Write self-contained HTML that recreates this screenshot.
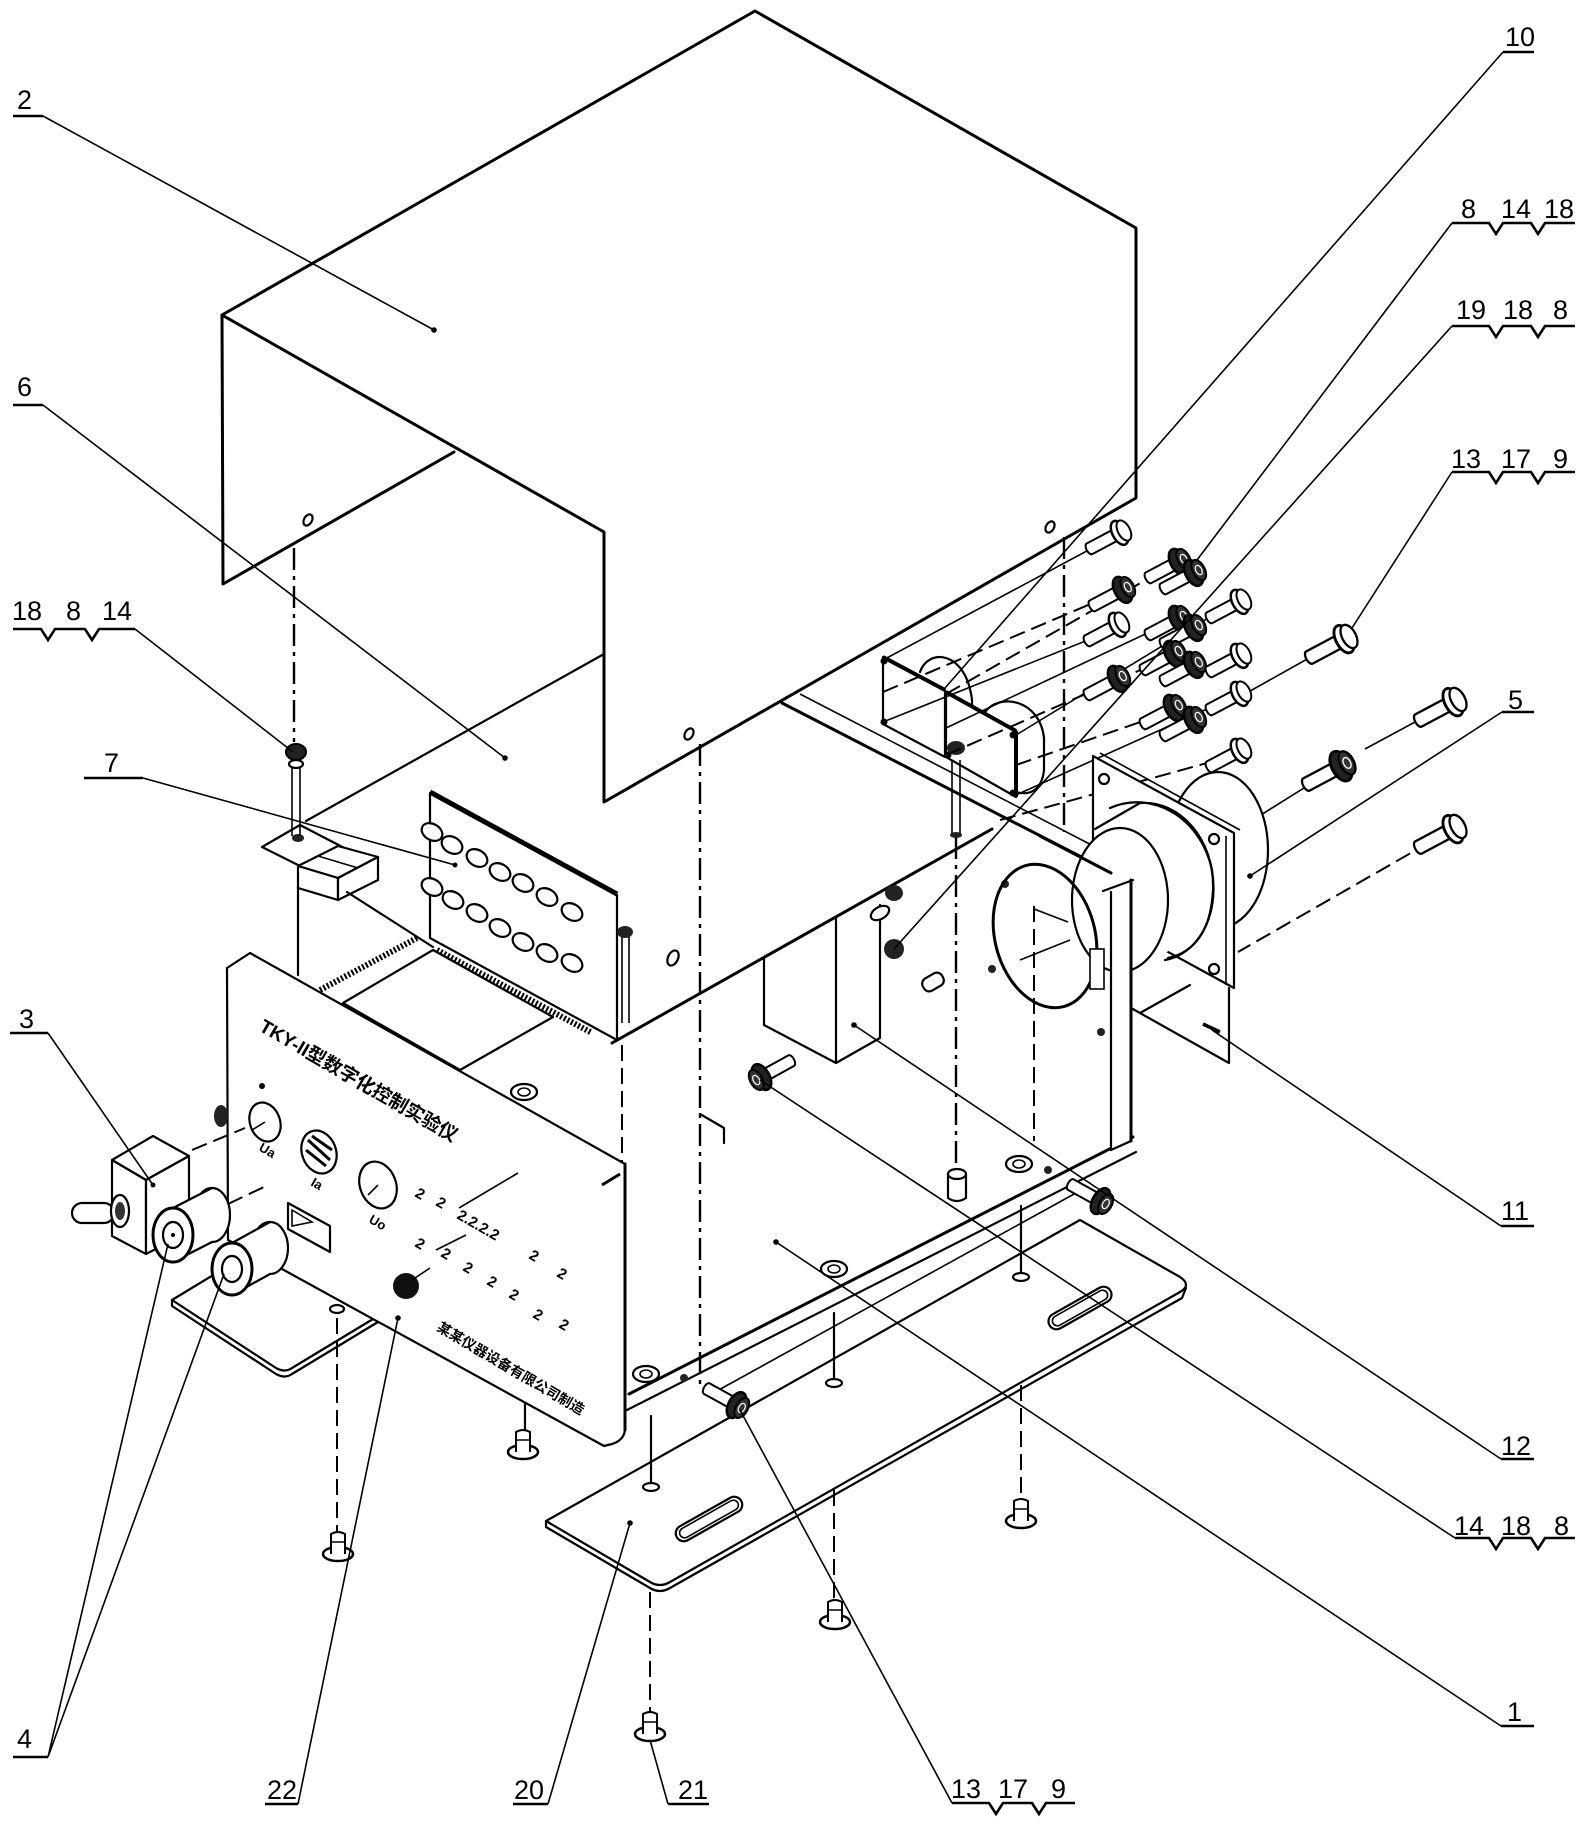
<!DOCTYPE html>
<html><head><meta charset="utf-8"><style>
html,body{margin:0;padding:0;background:#fff;}
svg{display:block;}
.k{stroke:#000;stroke-width:3;stroke-linecap:round;stroke-linejoin:round}
.m{stroke:#000;stroke-width:2.2;stroke-linecap:round;stroke-linejoin:round}
.t{stroke:#000;stroke-width:1.6}
.dd{stroke:#000;stroke-width:2.4;stroke-dasharray:22 6 4 6}
.ds{stroke:#000;stroke-width:2;stroke-dasharray:16 7}
.lb{font-family:"Liberation Sans",sans-serif;font-size:27px;fill:#000}
.pt{font-family:"Liberation Sans","Noto Sans CJK SC",sans-serif;font-weight:bold;fill:#000}
</style></head><body>
<svg width="1589" height="1830" viewBox="0 0 1589 1830" xmlns="http://www.w3.org/2000/svg" fill="none">
<defs>
<g id="bolt">
<path d="M-38,-6 L-8,-6 L-8,6 L-38,6 A3,6 0 0 1 -38,-6 Z" fill="#fff" stroke="#000" stroke-width="2"/>
<ellipse cx="-4" cy="0" rx="7" ry="13" fill="#fff" stroke="#000" stroke-width="2.5"/>
<ellipse cx="1" cy="0" rx="6" ry="11" fill="#fff" stroke="#000" stroke-width="2"/>
</g>
<g id="boltd">
<path d="M-38,-6 L-8,-6 L-8,6 L-38,6 A3,6 0 0 1 -38,-6 Z" fill="#fff" stroke="#000" stroke-width="2"/>
<ellipse cx="-4" cy="0" rx="8" ry="14" fill="#222" stroke="#000" stroke-width="2.5"/>
<ellipse cx="2" cy="0" rx="6" ry="11" fill="#333" stroke="#000" stroke-width="2"/>
<ellipse cx="2" cy="0" rx="3" ry="5" fill="none" stroke="#fff" stroke-width="1.2"/>
</g>
<g id="scr">
<ellipse cx="0" cy="0" rx="15" ry="7" fill="#fff" stroke="#000" stroke-width="2.5"/>
<path d="M-7,0 L-7,-20 Q0,-24 7,-20 L7,0" fill="#fff" stroke="#000" stroke-width="2"/>
<line x1="-7" y1="-12" x2="7" y2="-12" stroke="#000" stroke-width="1.5"/>
</g>
</defs>

<!-- ===== COVER (2) ===== -->
<path class="k" d="M222,315 L755,11 L1136,228 L1136,498 L604,802 L604,532 L222,315 L223,584 L454,452"/>
<ellipse cx="308" cy="520" rx="4" ry="6" class="m" transform="rotate(30 308 520)"/>
<ellipse cx="689" cy="734" rx="4" ry="6" class="m" transform="rotate(30 689 734)"/>
<ellipse cx="1050" cy="527" rx="4" ry="6" class="m" transform="rotate(30 1050 527)"/>

<!-- body top back edge -->
<line class="m" x1="604" y1="654" x2="306" y2="821"/>

<!-- vertical dash / solid lines -->
<line class="dd" x1="294" y1="548" x2="294" y2="742"/>
<line class="dd" x1="700" y1="744" x2="700" y2="1385"/>
<line class="dd" x1="1064" y1="537" x2="1064" y2="832"/>
<line class="dd" x1="956" y1="837" x2="956" y2="1175"/>
<line class="ds" x1="1034" y1="906" x2="1034" y2="1141"/>
<line class="ds" x1="622" y1="1045" x2="622" y2="1165"/>
<line class="ds" x1="650" y1="1592" x2="650" y2="1712"/>
<line class="ds" x1="834" y1="1490" x2="834" y2="1600"/>
<line class="ds" x1="1021" y1="1385" x2="1021" y2="1500"/>
<line class="m" x1="298" y1="887" x2="298" y2="975"/>
<line class="m" x1="525" y1="1401" x2="525" y2="1432"/>
<path class="m" d="M700,1114 L724,1128 L724,1143"/>

<!-- ===== PCB assembly (7) ===== -->
<path class="m" fill="#fff" d="M262,847 L300,825 L352,852 L314,873 Z"/>
<ellipse cx="298" cy="838" rx="6" ry="4" fill="#222"/>
<line class="t" x1="292" y1="758" x2="292" y2="836"/>
<line class="t" x1="300" y1="758" x2="300" y2="836"/>
<ellipse cx="296" cy="764" rx="7" ry="4" class="m" fill="#fff"/>
<ellipse cx="296" cy="752" rx="10" ry="8" fill="#222" stroke="#000" stroke-width="2"/>
<path class="m" fill="#fff" d="M298,866 L338,846 L378,857 L338,878 Z"/>
<path class="m" fill="#fff" d="M298,866 L338,878 L338,900 L298,888 Z"/>
<path class="m" fill="#fff" d="M338,878 L378,857 L378,880 L338,900 Z"/>
<line class="t" x1="318" y1="856" x2="358" y2="868"/>

<line x1="320" y1="990" x2="417" y2="938" stroke="#000" stroke-width="6" stroke-dasharray="2 2"/>
<path class="m" d="M343,1003 L433,950 L553,1017 L460,1070 Z"/>
<line class="m" x1="347" y1="892" x2="433" y2="947"/>

<path class="m" fill="#fff" d="M430,793 L617,895 L617,1040 L430,938 Z"/>
<line x1="430" y1="792" x2="617" y2="894" stroke="#000" stroke-width="5"/>
<line x1="437" y1="950" x2="592" y2="1033" stroke="#000" stroke-width="6" stroke-dasharray="2 2"/>
<g class="m" stroke-width="2.4" fill="#fff">
<ellipse cx="432" cy="832" rx="11" ry="8" transform="rotate(30 432 832)"/>
<ellipse cx="452" cy="845" rx="11" ry="8" transform="rotate(30 452 845)"/>
<ellipse cx="477" cy="858" rx="11" ry="8" transform="rotate(30 477 858)"/>
<ellipse cx="500" cy="872" rx="11" ry="8" transform="rotate(30 500 872)"/>
<ellipse cx="523" cy="883" rx="11" ry="8" transform="rotate(30 523 883)"/>
<ellipse cx="547" cy="897" rx="11" ry="8" transform="rotate(30 547 897)"/>
<ellipse cx="572" cy="912" rx="11" ry="8" transform="rotate(30 572 912)"/>
<ellipse cx="432" cy="887" rx="11" ry="8" transform="rotate(30 432 887)"/>
<ellipse cx="453" cy="900" rx="11" ry="8" transform="rotate(30 453 900)"/>
<ellipse cx="477" cy="913" rx="11" ry="8" transform="rotate(30 477 913)"/>
<ellipse cx="500" cy="928" rx="11" ry="8" transform="rotate(30 500 928)"/>
<ellipse cx="523" cy="942" rx="11" ry="8" transform="rotate(30 523 942)"/>
<ellipse cx="547" cy="953" rx="11" ry="8" transform="rotate(30 547 953)"/>
<ellipse cx="572" cy="963" rx="11" ry="8" transform="rotate(30 572 963)"/>
</g>
<line class="t" x1="622" y1="934" x2="622" y2="1023"/>
<line class="t" x1="629" y1="934" x2="629" y2="1023"/>
<ellipse cx="625" cy="932" rx="8" ry="6" fill="#222"/>
<ellipse cx="673" cy="958" rx="5" ry="8" class="m" transform="rotate(25 673 958)"/>

<!-- ===== CHASSIS (1) ===== -->
<line class="k" x1="612" y1="1043" x2="992" y2="829"/>
<line class="k" x1="782" y1="703" x2="1130" y2="882"/>
<line class="t" x1="800" y1="694" x2="1134" y2="867"/>
<line class="k" x1="629" y1="1394" x2="1133" y2="1137"/>
<line class="m" x1="627" y1="1410" x2="1136" y2="1152"/>
<line class="t" x1="715" y1="1392" x2="1085" y2="1188"/>
<!-- transformer box -->
<path class="m" d="M764,957 L764,1025 L836,1063 L836,917 M836,1063 L880,1038 L880,905"/>
<!-- small parts on chassis -->
<ellipse cx="894" cy="893" rx="9" ry="8" fill="#222"/>
<ellipse cx="880" cy="913" rx="10" ry="6" class="m" fill="#fff" transform="rotate(-30 880 913)"/>
<ellipse cx="894" cy="949" rx="10" ry="10" fill="#222"/>
<rect x="922" y="975" width="22" height="14" rx="6" class="m" fill="#fff" transform="rotate(-30 933 982)"/>
<circle cx="992" cy="969" r="4" fill="#222"/>
<circle cx="1005" cy="884" r="4" fill="#222"/>
<circle cx="1101" cy="904" r="4" fill="#222"/>
<circle cx="1101" cy="1032" r="4" fill="#222"/>
<ellipse cx="524" cy="1092" rx="13" ry="8" class="m" fill="#fff"/><ellipse cx="524" cy="1092" rx="6" ry="4" class="t"/>
<ellipse cx="646" cy="1374" rx="13" ry="8" class="m" fill="#fff"/><ellipse cx="646" cy="1374" rx="6" ry="4" class="t"/>
<ellipse cx="834" cy="1269" rx="13" ry="8" class="m" fill="#fff"/><ellipse cx="834" cy="1269" rx="6" ry="4" class="t"/>
<ellipse cx="1019" cy="1164" rx="13" ry="8" class="m" fill="#fff"/><ellipse cx="1019" cy="1164" rx="6" ry="4" class="t"/>
<path class="m" fill="#fff" d="M948,1174 L948,1198 Q957,1204 966,1198 L966,1174"/>
<ellipse cx="957" cy="1174" rx="9" ry="5" class="m" fill="#fff"/>
<circle cx="684" cy="1378" r="4" fill="#222"/>
<circle cx="1048" cy="1170" r="4" fill="#222"/>

<!-- ===== PLATES (10) ===== -->
<path class="m" d="M920,672 C928,648 966,650 972,700 L972,720"/>
<path class="m" fill="#fff" d="M883,657 L945,690 L945,757 L883,724 Z"/>
<path class="m" d="M985,712 C1000,692 1040,700 1044,738 L1044,770 C1042,790 1030,796 1016,792"/>
<path class="m" fill="#fff" d="M946,692 L1016,731 L1016,797 L946,757 Z"/>
<line x1="883" y1="657" x2="945" y2="690" stroke="#000" stroke-width="4"/>
<line x1="946" y1="692" x2="1016" y2="731" stroke="#000" stroke-width="4"/>
<line x1="1016" y1="731" x2="1016" y2="797" stroke="#000" stroke-width="4"/>
<circle cx="884" cy="661" r="3.5" fill="#000"/><circle cx="884" cy="722" r="3.5" fill="#000"/>
<circle cx="948" cy="755" r="3.5" fill="#000"/><circle cx="1013" cy="735" r="3.5" fill="#000"/><circle cx="1013" cy="793" r="3.5" fill="#000"/>
<line class="t" x1="952" y1="760" x2="952" y2="837"/><line class="t" x1="960" y1="760" x2="960" y2="837"/>
<ellipse cx="956" cy="748" rx="9" ry="7" fill="#222"/>
<ellipse cx="956" cy="835" rx="6" ry="3" fill="#222"/>
<!-- axis lines plates -> bolts -->
<line class="t" x1="883" y1="660" x2="1098" y2="545"/>
<line class="ds" x1="883" y1="692" x2="1100" y2="600"/>
<line class="t" x1="883" y1="722" x2="1098" y2="636"/>
<line class="ds" x1="946" y1="694" x2="1158" y2="573"/>
<line class="t" x1="946" y1="728" x2="1158" y2="628"/>
<line class="ds" x1="946" y1="755" x2="1154" y2="664"/>
<line class="t" x1="1016" y1="735" x2="1218" y2="612"/>
<line class="ds" x1="1016" y1="765" x2="1152" y2="718"/>
<line class="t" x1="1016" y1="795" x2="1218" y2="704"/>
<line class="ds" x1="1000" y1="820" x2="1218" y2="760"/>
<line class="t" x1="1320" y1="778" x2="1256" y2="818"/>
<line class="t" x1="1428" y1="715" x2="1365" y2="749"/>
<line class="ds" x1="1430" y1="842" x2="1238" y2="952"/>
<line class="t" x1="1318" y1="653" x2="1243" y2="695"/>

<!-- ===== FAN (5) ===== -->
<ellipse cx="1218" cy="850" rx="50" ry="78" fill="#fff" class="m"/>
<path class="m" fill="#fff" d="M1093,756 L1234,833 L1234,988 L1093,911 Z"/>
<line class="t" x1="1226" y1="836" x2="1226" y2="985"/>
<line class="t" x1="1100" y1="753" x2="1240" y2="830"/>
<circle cx="1104" cy="779" r="5" class="m"/><circle cx="1214" cy="839" r="5" class="m"/>
<circle cx="1214" cy="969" r="5" class="m"/>
<path fill="#fff" stroke="none" d="M1120,832 L1160,804 L1172,880 L1160,958 L1120,978 Z"/>
<path class="m" d="M1110,808 C1150,790 1200,815 1212,870 C1220,920 1195,955 1165,960"/>
<path fill="#fff" stroke="none" d="M1095,830 L1140,803 L1165,850 L1170,950 L1135,972 Z"/>
<line class="m" x1="1095" y1="829" x2="1140" y2="803"/>
<path class="m" d="M1140,803 C1180,800 1215,840 1213,890 C1211,930 1195,952 1168,958"/>
<ellipse cx="1120" cy="900" rx="48" ry="72" fill="#fff" class="m"/>
<line class="k" x1="1040" y1="836" x2="1111" y2="873"/>
<!-- wall hole -->
<ellipse cx="1045" cy="936" rx="50" ry="73" transform="rotate(-15 1045 936)" class="k"/>
<path class="t" d="M1034,909 L1068,922 M1020,960 L1070,940"/>
<rect x="1090" y="949" width="14" height="40" class="t" fill="#fff"/>
<!-- flange -->
<path fill="#fff" stroke="none" d="M1111,892 L1131,882 L1131,1141 L1111,1150 Z"/>
<line class="m" x1="1111" y1="892" x2="1111" y2="1150"/>
<line class="k" x1="1131" y1="880" x2="1131" y2="1141"/>
<line class="m" x1="1103" y1="891" x2="1133" y2="880"/>
<line class="m" x1="1111" y1="1150" x2="1131" y2="1141"/>
<!-- bracket 11 -->
<path class="m" d="M1131,1008 L1229,1063 L1229,988 M1140,1013 L1190,985"/>
<line x1="1203" y1="1024" x2="1220" y2="1032" stroke="#000" stroke-width="3.5"/>

<!-- ===== BASE PLATE (20) ===== -->
<path class="m" fill="#fff" d="M546,1521 L1080,1220 L1180,1277 Q1192,1285 1180,1292 L670,1582 Q660,1588 650,1582 Z"/>
<path class="m" d="M546,1521 L546,1527 L650,1588 Q660,1594 670,1588 L1182,1298 L1186,1288"/>
<rect x="672" y="1511" width="74" height="16" rx="8" class="m" transform="rotate(-29.5 709 1519)"/>
<rect x="676" y="1514" width="66" height="10" rx="5" class="t" transform="rotate(-29.5 709 1519)"/>
<rect x="1045" y="1300" width="70" height="16" rx="8" class="m" transform="rotate(-29.5 1080 1308)"/>
<rect x="1049" y="1303" width="62" height="10" rx="5" class="t" transform="rotate(-29.5 1080 1308)"/>
<ellipse cx="651" cy="1487" rx="8" ry="4" class="m"/>
<ellipse cx="834" cy="1383" rx="8" ry="4" class="m"/>
<ellipse cx="1021" cy="1277" rx="8" ry="4" class="m"/>
<line class="m" x1="834" y1="1313" x2="834" y2="1379"/>
<line class="m" x1="1021" y1="1206" x2="1021" y2="1273"/>
<line class="m" x1="651" y1="1416" x2="651" y2="1483"/>

<!-- ===== BOLTS ===== -->
<use href="#bolt" transform="translate(1123,531) rotate(-28)"/>
<use href="#boltd" transform="translate(1182,560) rotate(-28)"/>
<use href="#boltd" transform="translate(1197,571) rotate(-28)"/>
<use href="#boltd" transform="translate(1126,588) rotate(-28)"/>
<use href="#bolt" transform="translate(1243,600) rotate(-28)"/>
<use href="#bolt" transform="translate(1121,623) rotate(-28)"/>
<use href="#boltd" transform="translate(1182,617) rotate(-28)"/>
<use href="#boltd" transform="translate(1197,626) rotate(-28)"/>
<use href="#boltd" transform="translate(1121,677) rotate(-28)"/>
<use href="#boltd" transform="translate(1177,652) rotate(-28)"/>
<use href="#boltd" transform="translate(1197,663) rotate(-28)"/>
<use href="#bolt" transform="translate(1243,654) rotate(-28)"/>
<use href="#bolt" transform="translate(1243,692) rotate(-28)"/>
<use href="#boltd" transform="translate(1177,706) rotate(-28)"/>
<use href="#boltd" transform="translate(1197,718) rotate(-28)"/>
<use href="#bolt" transform="translate(1243,749) rotate(-28)"/>
<use href="#bolt" transform="translate(1348,637) rotate(-28) scale(1.15)"/>
<use href="#bolt" transform="translate(1457,700) rotate(-28) scale(1.15)"/>
<use href="#boltd" transform="translate(1345,764) rotate(-28) scale(1.15)"/>
<use href="#bolt" transform="translate(1457,827) rotate(-28) scale(1.15)"/>
<use href="#boltd" transform="translate(740,1407) rotate(29)"/>
<use href="#boltd" transform="translate(1104,1203) rotate(29)"/>
<use href="#boltd" transform="translate(758,1079) rotate(151)"/>

<!-- ===== LEFT FOOT PLATE ===== -->
<path class="m" fill="#fff" d="M172,1300 L271,1240 L378,1316 L292,1368 Q285,1373 276,1368 Z"/>
<path class="m" d="M172,1300 L172,1306 L276,1374 Q285,1379 292,1374 L378,1322 L378,1316"/>
<ellipse cx="337" cy="1309" rx="7" ry="4" class="m"/>
<line class="ds" x1="337" y1="1318" x2="337" y2="1532"/>

<!-- ===== FRONT PANEL (22) ===== -->
<path class="m" fill="#fff" d="M227,968 L250,953 L625,1164 L625,1428 Q625,1440 612,1444 L604,1446 L262,1258 L228,1240 Z"/>
<line class="k" x1="625" y1="1164" x2="625" y2="1430"/>
<line x1="602" y1="1185" x2="620" y2="1174" stroke="#000" stroke-width="3"/>
<text class="pt" font-size="19" transform="translate(258,1030) rotate(30)">TKY-II型数字化控制实验仪</text>
<text class="pt" font-size="14" transform="translate(436,1330) rotate(30.5)">某某仪器设备有限公司制造</text>
<ellipse cx="265" cy="1122" rx="15" ry="20" class="m" transform="rotate(-20 265 1122)"/>
<line class="t" x1="265" y1="1122" x2="252" y2="1130"/>
<ellipse cx="319" cy="1152" rx="17" ry="22" class="m" transform="rotate(-20 319 1152)"/>
<path d="M308,1140 L330,1160 M306,1150 L326,1166 M312,1136 L332,1150" stroke="#000" stroke-width="3"/>
<ellipse cx="378" cy="1185" rx="18" ry="24" class="m" transform="rotate(-20 378 1185)"/>
<line class="t" x1="378" y1="1185" x2="368" y2="1195"/>
<circle cx="262" cy="1086" r="3" fill="#000"/>
<text class="pt" font-size="13" transform="translate(258,1150) rotate(30)">Ua</text>
<text class="pt" font-size="13" transform="translate(310,1185) rotate(30)">Ia</text>
<text class="pt" font-size="13" transform="translate(368,1222) rotate(30)">Uo</text>
<path class="m" d="M288,1203 L330,1226 L330,1252 L288,1229 Z"/>
<path class="t" d="M292,1210 L312,1222 L292,1226 Z"/>
<circle cx="406" cy="1286" r="13" fill="#111"/>
<g class="pt" font-size="15">
<text transform="translate(414,1196) rotate(30)">2</text>
<text transform="translate(435,1205) rotate(30)">2</text>
<text transform="translate(456,1218) rotate(30)">2.2.2.2</text>
<text transform="translate(528,1258) rotate(30)">2</text>
<text transform="translate(556,1276) rotate(30)">2</text>
<text transform="translate(414,1246) rotate(30)">2</text>
<text transform="translate(440,1256) rotate(30)">2</text>
<text transform="translate(462,1270) rotate(30)">2</text>
<text transform="translate(486,1284) rotate(30)">2</text>
<text transform="translate(508,1297) rotate(30)">2</text>
<text transform="translate(532,1317) rotate(30)">2</text>
<text transform="translate(558,1327) rotate(30)">2</text>
</g>
<line class="t" x1="459" y1="1208" x2="518" y2="1173"/>
<line class="t" x1="436" y1="1250" x2="466" y2="1235"/>
<line class="t" x1="412" y1="1280" x2="430" y2="1268"/>

<!-- ===== SWITCH (3) & KNOBS (4) ===== -->
<ellipse cx="221" cy="1116" rx="7" ry="11" fill="#222"/>
<line class="ds" x1="192" y1="1150" x2="245" y2="1128"/>
<line class="ds" x1="228" y1="1204" x2="266" y2="1186"/>
<path class="m" fill="#fff" d="M112,1160 L153,1136 L189,1156 L146,1180 Z"/>
<path class="m" fill="#fff" d="M112,1160 L146,1180 L146,1254 L112,1236 Z"/>
<path class="m" fill="#fff" d="M146,1180 L189,1156 L189,1232 L146,1254 Z"/>
<circle cx="153" cy="1185" r="2.5" fill="#000"/>
<rect x="72" y="1203" width="42" height="20" rx="10" class="m" fill="#fff"/>
<ellipse cx="120" cy="1211" rx="9" ry="16" class="m" fill="#fff"/>
<ellipse cx="120" cy="1211" rx="5" ry="9" fill="#333"/>
<!-- knob 1 -->
<ellipse cx="212" cy="1215" rx="18" ry="27" class="m" fill="#fff"/>
<path fill="#fff" stroke="none" d="M173,1208 L212,1188 L212,1242 L173,1262 Z"/>
<line class="m" x1="173" y1="1208" x2="212" y2="1188"/>
<line class="m" x1="173" y1="1262" x2="212" y2="1242"/>
<ellipse cx="173" cy="1235" rx="20" ry="27" fill="#fff" stroke="#000" stroke-width="3"/>
<ellipse cx="173" cy="1235" rx="10" ry="13" class="m"/>
<circle cx="173" cy="1235" r="2" fill="#000"/>
<!-- knob 2 -->
<ellipse cx="270" cy="1248" rx="18" ry="26" class="m" fill="#fff"/>
<path fill="#fff" stroke="none" d="M232,1243 L270,1222 L270,1274 L232,1295 Z"/>
<line class="m" x1="232" y1="1243" x2="270" y2="1222"/>
<line class="m" x1="232" y1="1295" x2="270" y2="1274"/>
<ellipse cx="232" cy="1269" rx="20" ry="26" fill="#fff" stroke="#000" stroke-width="3"/>
<ellipse cx="232" cy="1269" rx="10" ry="13" class="m"/>

<!-- ===== SCREWS ===== -->
<use href="#scr" transform="translate(338,1554)"/>
<use href="#scr" transform="translate(523,1452)"/>
<use href="#scr" transform="translate(650,1734)"/>
<use href="#scr" transform="translate(835,1622)"/>
<use href="#scr" transform="translate(1021,1521)"/>

<!-- ===== LEADERS ===== -->
<g class="t">
<line x1="43" y1="116" x2="434" y2="330"/>
<line x1="43" y1="405" x2="505" y2="758"/>
<line x1="135" y1="629" x2="293" y2="752"/>
<line x1="143" y1="778" x2="455" y2="865"/>
<line x1="48" y1="1033" x2="153" y2="1185"/>
<line x1="48" y1="1757" x2="168" y2="1244"/>
<line x1="48" y1="1757" x2="224" y2="1274"/>
<line x1="298" y1="1804" x2="398" y2="1318"/>
<line x1="548" y1="1804" x2="630" y2="1523"/>
<line x1="668" y1="1804" x2="650" y2="1740"/>
<line x1="952" y1="1803" x2="740" y2="1410"/>
<line x1="1501" y1="1726" x2="776" y2="1242"/>
<line x1="1455" y1="1538" x2="760" y2="1080"/>
<line x1="1501" y1="1459" x2="854" y2="1025"/>
<line x1="1501" y1="1226" x2="1212" y2="1030"/>
<line x1="1502" y1="712" x2="1250" y2="876"/>
<line x1="1452" y1="472" x2="1352" y2="628"/>
<line x1="1452" y1="326" x2="894" y2="949"/>
<line x1="1452" y1="223" x2="1197" y2="560"/>
<line x1="1503" y1="52" x2="945" y2="688"/>
</g>
<g fill="#000">
<circle cx="434" cy="330" r="2.8"/><circle cx="505" cy="758" r="2.8"/>
<circle cx="398" cy="1318" r="2.8"/><circle cx="630" cy="1523" r="2.8"/>
<circle cx="776" cy="1242" r="2.8"/><circle cx="854" cy="1025" r="2.8"/>
<circle cx="1250" cy="876" r="2.8"/><circle cx="455" cy="865" r="2.5"/>
</g>

<!-- underlines / braces -->
<g stroke="#000" stroke-width="2.6" fill="none">
<line x1="13" y1="116" x2="43" y2="116"/>
<line x1="13" y1="405" x2="43" y2="405"/>
<path d="M13,629 H41 L48,640 L55,629 H85 L92,640 L99,629 H135"/>
<line x1="84" y1="778" x2="143" y2="778"/>
<line x1="10" y1="1033" x2="48" y2="1033"/>
<line x1="13" y1="1757" x2="48" y2="1757"/>
<line x1="265" y1="1804" x2="298" y2="1804"/>
<line x1="513" y1="1804" x2="548" y2="1804"/>
<line x1="668" y1="1804" x2="709" y2="1804"/>
<path d="M952,1803 H989 L996,1814 L1003,1803 H1032 L1039,1814 L1046,1803 H1075"/>
<line x1="1501" y1="1726" x2="1534" y2="1726"/>
<path d="M1455,1538 H1489 L1496,1549 L1503,1538 H1531 L1538,1549 L1545,1538 H1575"/>
<line x1="1501" y1="1459" x2="1534" y2="1459"/>
<line x1="1501" y1="1226" x2="1534" y2="1226"/>
<line x1="1502" y1="712" x2="1534" y2="712"/>
<path d="M1452,472 H1489 L1496,483 L1503,472 H1531 L1538,483 L1545,472 H1575"/>
<path d="M1452,326 H1489 L1496,337 L1503,326 H1531 L1538,337 L1545,326 H1575"/>
<path d="M1452,223 H1489 L1496,234 L1503,223 H1531 L1538,234 L1545,223 H1575"/>
<line x1="1503" y1="52" x2="1534" y2="52"/>
</g>

<!-- labels -->
<g class="lb">
<text x="17" y="109">2</text>
<text x="17" y="396">6</text>
<text x="12" y="620">18</text><text x="66" y="620">8</text><text x="102" y="620">14</text>
<text x="104" y="772">7</text>
<text x="19" y="1028">3</text>
<text x="17" y="1748">4</text>
<text x="267" y="1799">22</text>
<text x="514" y="1799">20</text>
<text x="678" y="1799">21</text>
<text x="951" y="1798">13</text><text x="998" y="1798">17</text><text x="1051" y="1798">9</text>
<text x="1507" y="1721">1</text>
<text x="1454" y="1535">14</text><text x="1501" y="1535">18</text><text x="1554" y="1535">8</text>
<text x="1501" y="1455">12</text>
<text x="1501" y="1220">11</text>
<text x="1508" y="709">5</text>
<text x="1451" y="468">13</text><text x="1501" y="468">17</text><text x="1553" y="468">9</text>
<text x="1456" y="319">19</text><text x="1503" y="319">18</text><text x="1553" y="319">8</text>
<text x="1461" y="218">8</text><text x="1501" y="218">14</text><text x="1544" y="218">18</text>
<text x="1505" y="46">10</text>
</g>
</svg>
</body></html>
